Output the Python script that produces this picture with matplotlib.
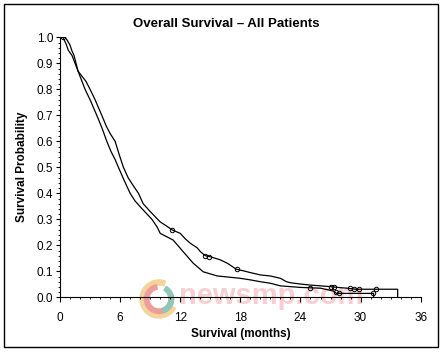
import matplotlib
matplotlib.use("Agg")
import matplotlib.pyplot as plt
from matplotlib.patches import Rectangle, Wedge
from matplotlib.ticker import MultipleLocator

plt.rcParams["font.family"] = ["Liberation Sans", "DejaVu Sans"]

# Kaplan-Meier curves (months, survival probability);
# the many tiny steps of the original are traced as a polyline
upper_t = [0, 0.3, 0.6, 0.83, 1.2, 1.5, 1.8, 2.2, 2.6, 3.0, 3.5, 4.17, 4.6, 5.0,
           5.5, 5.9, 6.33, 6.8, 7.3, 7.83, 8.3, 9.0, 10.0, 10.6, 11.2, 12.0,
           12.5, 13.0, 13.7, 14.0, 14.5, 15.0, 16.0, 16.7, 17.6, 18.5, 19.0,
           20.0, 21.0, 22.0, 22.6, 23.0, 24.0, 25.0, 26.0, 27.0, 28.0, 28.7,
           29.5, 33.7, 33.7]
upper_s = [1.0, 1.0, 0.975, 0.95, 0.93, 0.90, 0.87, 0.85, 0.83, 0.80, 0.76,
           0.70, 0.66, 0.63, 0.60, 0.55, 0.50, 0.46, 0.43, 0.40, 0.36, 0.33,
           0.29, 0.275, 0.259, 0.246, 0.225, 0.208, 0.19, 0.176, 0.16, 0.156,
           0.144, 0.131, 0.108, 0.10, 0.095, 0.086, 0.082, 0.073, 0.060,
           0.056, 0.051, 0.047, 0.044, 0.041, 0.037, 0.035, 0.031, 0.031, 0.0]

lower_t = [0, 0.5, 0.7, 1.0, 1.17, 1.4, 1.6, 1.8, 2.1, 2.5, 3.0, 3.67, 4.2,
           4.67, 5.1, 5.5, 5.83, 6.4, 7.0, 7.5, 8.2, 9.17, 9.7, 10.0, 11.3,
           12.3, 13.3, 14.3, 15.7, 17.0, 18.0, 19.0, 20.0, 21.0, 22.0, 24.0,
           26.0, 27.3, 27.6, 31.3, 31.3]
lower_s = [1.0, 1.0, 0.99, 0.97, 0.95, 0.93, 0.90, 0.87, 0.84, 0.80, 0.76,
           0.70, 0.65, 0.60, 0.56, 0.53, 0.50, 0.45, 0.40, 0.37, 0.34, 0.30,
           0.27, 0.246, 0.22, 0.175, 0.131, 0.098, 0.082, 0.077, 0.073,
           0.067, 0.060, 0.054, 0.044, 0.038, 0.035, 0.024, 0.015, 0.015, 0.0]

# censored observations
upper_cens_t = [0.3, 11.2, 14.5, 14.9, 17.7, 27.0, 27.3, 28.9, 29.3, 29.8, 31.5]
upper_cens_s = [1.0, 0.259, 0.158, 0.156, 0.108, 0.041, 0.040, 0.034, 0.031, 0.031, 0.031]
lower_cens_t = [25.0, 27.5, 27.8, 31.2]
lower_cens_s = [0.037, 0.020, 0.015, 0.015]

fig = plt.figure(figsize=(4.43, 3.52), dpi=100)
ax = fig.add_axes([60 / 443, 1 - 297.3 / 352, 360.7 / 443, 260 / 352])
ax.set_facecolor("none")

ax.plot(upper_t, upper_s, color="black", lw=0.9)
ax.plot(lower_t, lower_s, color="black", lw=0.9)
ax.plot(upper_cens_t, upper_cens_s, "o", mfc="none", mec="black", ms=3.2, mew=0.7)
ax.plot(lower_cens_t, lower_cens_s, "o", mfc="none", mec="black", ms=3.2, mew=0.7)

ax.set_xlim(0, 36)
ax.set_ylim(0, 1.0)
ax.xaxis.set_major_locator(MultipleLocator(6))
ax.xaxis.set_minor_locator(MultipleLocator(1))
ax.yaxis.set_major_locator(MultipleLocator(0.1))
ax.yaxis.set_minor_locator(MultipleLocator(0.02))
ax.set_yticklabels([f"{v:.1f}" for v in ax.get_yticks()])
ax.spines["top"].set_visible(False)
ax.spines["right"].set_visible(False)
ax.spines["left"].set_linewidth(0.8)
ax.spines["bottom"].set_linewidth(0.8)
ax.tick_params(axis="x", which="major", length=3.5, width=0.8, pad=7, labelsize=8.5)
ax.tick_params(axis="y", which="major", length=3, width=0.8, pad=2, labelsize=8.5)
ax.tick_params(which="minor", length=1.5, width=0.6)

ax.set_xlabel("Survival (months)", fontsize=8.5, fontweight="bold", labelpad=3)
ax.set_ylabel("Survival Probability", fontsize=8.5, fontweight="bold", labelpad=6)
fig.text(226 / 443, 1 - 24 / 352, "Overall Survival \u2013 All Patients",
         ha="center", va="center", fontsize=9.5, fontweight="bold")

# watermark
c = (1.59, 0.53)
tr = fig.dpi_scale_trans
fig.patches.append(Wedge(c, 0.19, 70, 330, width=0.05, color="#f3d49a", transform=tr, zorder=-2))
fig.patches.append(Wedge(c, 0.145, 100, 20, width=0.045, color="#ee9d9d", transform=tr, zorder=-1))
fig.patches.append(Wedge(c, 0.145, -70, 60, width=0.045, color="#8ec8b8", transform=tr, zorder=-1))
fig.text(271 / 443, 1 - 296 / 352, "newsmp.com", ha="center", va="center",
         fontsize=21, fontweight="bold", color="#f7cfd2", zorder=-1)

# outer frame
fig.patches.append(Rectangle((4 / 443, 1 - 346.7 / 352), 433.7 / 443, 342.7 / 352,
                             fill=False, edgecolor="black", lw=1, transform=fig.transFigure))

fig.savefig("out.png", dpi=100)
